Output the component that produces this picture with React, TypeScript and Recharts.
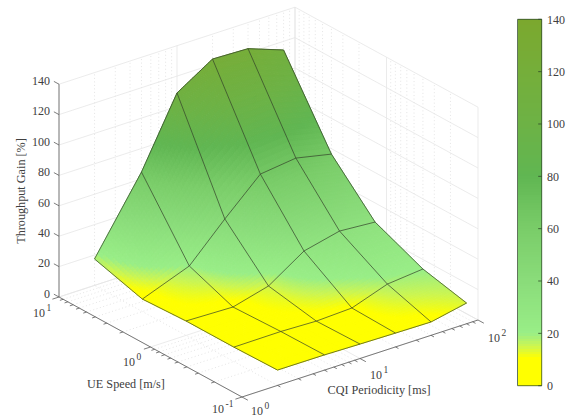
import React from "react";
import { ScatterChart, Scatter, XAxis, YAxis } from "recharts";

const cqiPeriods = [2, 5, 10, 20, 40, 80];
const ueSpeeds = [0.1, 0.3, 1, 3, 10];
const gainAt01 = [10.1, 10, 9.5, 9.1, 8.8, 13.6];
const gainAt03 = [9.5, 9.7, 8.9, 9.9, 18, 20.3];
const gainAt1 = [9.5, 8.6, 14.8, 30.2, 35.7, 34];
const gainAt3 = [8.2, 19.9, 43.2, 65.1, 68, 63];
const gainAt10 = [17.4, 64.5, 108.9, 123.6, 122.8, 114.3];
const gainRows = [gainAt01, gainAt03, gainAt1, gainAt3, gainAt10];
const gainTicks = [0, 20, 40, 60, 80, 100, 120, 140];
const decadeMinors = [2, 3, 4, 5, 6, 7, 8, 9];
const colorStops: [number, number[]][] = [
  [0, [255, 255, 0]],
  [10.5, [255, 255, 0]],
  [15, [205, 246, 80]],
  [20, [153, 238, 135]],
  [40, [138, 220, 122]],
  [60, [122, 205, 105]],
  [80, [96, 182, 82]],
  [100, [109, 178, 69]],
  [120, [117, 174, 58]],
  [140, [123, 168, 46]],
];

const W = 574;
const H = 417;
const FONT = "'Liberation Serif', 'Times New Roman', serif";
const TEXT = "#404040";
const AXIS = "#5a5a5a";
const GRID = "#e6e6e6";
const MINOR = "#d4d4d4";

type P = { x: number; y: number };
const cqiToU = (c: number) => Math.log10(c) / 2;
const speedToV = (s: number) => (Math.log10(s) + 1) / 2;
const project = (u: number, v: number, z: number): P => ({
  x: 242 + 236 * u - 183 * v,
  y: 397 - 77 * u - 100 * v - 1.52 * z,
});
const colorOf = (z: number) => {
  for (let i = 1; i < colorStops.length; i++) {
    const [z1, c1] = colorStops[i];
    const [z0, c0] = colorStops[i - 1];
    if (z <= z1) {
      const t = (z - z0) / (z1 - z0);
      return `rgb(${c0.map((c, k) => Math.round(c + (c1[k] - c) * t)).join(",")})`;
    }
  }
  return "rgb(123,168,46)";
};

type Poly = P & { pts: P[]; fill: string };
const PolyShape = (props: any) => {
  const { cx, cy, payload } = props;
  const pts = payload.pts.map((p: P) => `${cx + p.x - payload.x},${cy + p.y - payload.y}`).join(" ");
  return <polygon points={pts} fill={payload.fill} stroke={payload.fill} strokeWidth={1} strokeLinejoin="round" />;
};
const CrispShape = (props: any) => {
  const { cx, cy, payload } = props;
  const pts = payload.pts.map((p: P) => `${cx + p.x - payload.x},${cy + p.y - payload.y}`).join(" ");
  return <polygon points={pts} fill={payload.fill} shapeRendering="crispEdges" />;
};
const NoDot = () => null;

const surfacePolys: Poly[] = [];
const SUB = 20;
for (let j = ueSpeeds.length - 2; j >= 0; j--) {
  for (let i = cqiPeriods.length - 2; i >= 0; i--) {
    const u0 = cqiToU(cqiPeriods[i]);
    const u1 = cqiToU(cqiPeriods[i + 1]);
    const v0 = speedToV(ueSpeeds[j]);
    const v1 = speedToV(ueSpeeds[j + 1]);
    const gz = (a: number, b: number) =>
      gainRows[j][i] * (1 - a) * (1 - b) +
      gainRows[j][i + 1] * a * (1 - b) +
      gainRows[j + 1][i] * (1 - a) * b +
      gainRows[j + 1][i + 1] * a * b;
    const at = (a: number, b: number) => project(u0 + (u1 - u0) * a, v0 + (v1 - v0) * b, gz(a, b));
    for (let b = SUB - 1; b >= 0; b--) {
      for (let a = SUB - 1; a >= 0; a--) {
        const a0 = a / SUB;
        const a1 = (a + 1) / SUB;
        const b0 = b / SUB;
        const b1 = (b + 1) / SUB;
        const first = at(a0, b0);
        surfacePolys.push({
          ...first,
          pts: [first, at(a1, b0), at(a1, b1), at(a0, b1)],
          fill: colorOf(gz((a0 + a1) / 2, (b0 + b1) / 2)),
        });
      }
    }
  }
}

const meshLines: P[][] = [
  ...ueSpeeds.map((s, j) => cqiPeriods.map((c, i) => project(cqiToU(c), speedToV(s), gainRows[j][i]))),
  ...cqiPeriods.map((c, i) => ueSpeeds.map((s, j) => project(cqiToU(c), speedToV(s), gainRows[j][i]))),
];

type Seg = { pts: P[]; stroke: string; width: number; dash?: string };
const segs: Seg[] = [];
const ZMAX = 140;
const minorUs: number[] = [];
const minorVs: number[] = [];
[0, 1].forEach((d) =>
  decadeMinors.forEach((m) => {
    minorUs.push((d + Math.log10(m)) / 2);
    minorVs.push((d + Math.log10(m)) / 2);
  })
);
minorUs.forEach((u) => {
  segs.push({ pts: [project(u, 1, 0), project(u, 1, ZMAX)], stroke: MINOR, width: 0.6, dash: "1 2.5" });
  segs.push({ pts: [project(u, 0, 0), project(u, 1, 0)], stroke: MINOR, width: 0.6, dash: "1 2.5" });
});
minorVs.forEach((v) => {
  segs.push({ pts: [project(1, v, 0), project(1, v, ZMAX)], stroke: MINOR, width: 0.6, dash: "1 2.5" });
  segs.push({ pts: [project(0, v, 0), project(1, v, 0)], stroke: MINOR, width: 0.6, dash: "1 2.5" });
});
gainTicks.forEach((z) => {
  segs.push({ pts: [project(0, 1, z), project(1, 1, z), project(1, 0, z)], stroke: GRID, width: 0.8 });
});
[0, 0.5, 1].forEach((t) => {
  segs.push({ pts: [project(t, 1, 0), project(t, 1, ZMAX)], stroke: GRID, width: 0.8 });
  segs.push({ pts: [project(1, t, 0), project(1, t, ZMAX)], stroke: GRID, width: 0.8 });
  segs.push({ pts: [project(t, 0, 0), project(t, 1, 0)], stroke: GRID, width: 0.8 });
  segs.push({ pts: [project(0, t, 0), project(1, t, 0)], stroke: GRID, width: 0.8 });
});

const axisSegs: Seg[] = [];
const ax = (pts: P[], width = 0.8) => axisSegs.push({ pts, stroke: AXIS, width });
ax([project(0, 1, 0), project(0, 0, 0), project(1, 0, 0)]);
ax([project(0, 1, 0), project(0, 1, ZMAX)]);
gainTicks.forEach((z) => ax([project(0, 1, z), project(0, 1.028, z)]));
[0, 0.5, 1].forEach((t) => {
  ax([project(0, t, 0), project(-0.028, t, 0)]);
  ax([project(t, 0, 0), project(t, -0.032, 0)]);
});
minorVs.forEach((t) => ax([project(0, t, 0), project(-0.014, t, 0)]));
minorUs.forEach((t) => ax([project(t, 0, 0), project(t, -0.016, 0)]));

const cbX0 = 517.5;
const cbX1 = 541.7;
const cbY = (z: number) => 385.7 - (z / 140) * 366.4;
const colorbarPolys: Poly[] = [];
for (let z = 0; z < 140; z++) {
  const first = { x: cbX0, y: cbY(z) };
  colorbarPolys.push({
    ...first,
    pts: [first, { x: cbX1, y: cbY(z) }, { x: cbX1, y: cbY(z + 1) - 0.5 }, { x: cbX0, y: cbY(z + 1) - 0.5 }],
    fill: colorOf(z + 0.5),
  });
}
const cbBorder: P[] = [
  { x: cbX0, y: cbY(0) },
  { x: cbX1, y: cbY(0) },
  { x: cbX1, y: cbY(140) },
  { x: cbX0, y: cbY(140) },
  { x: cbX0, y: cbY(0) },
];

const lineSeries = (list: Seg[], prefix: string) =>
  list.map((s, k) => (
    <Scatter
      key={`${prefix}${k}`}
      data={s.pts}
      isAnimationActive={false}
      shape={NoDot}
      line={{ stroke: s.stroke, strokeWidth: s.width, strokeDasharray: s.dash, fill: "none" }}
    />
  ));

const Pow = ({ x, y, e }: { x: number; y: number; e: string }) => (
  <text x={x} y={y} fontFamily={FONT} fontSize={12} fill={TEXT}>
    10
    <tspan dy={-6} dx={1.5} fontSize={9.5}>
      {e}
    </tspan>
  </text>
);

export default function App() {
  return (
    <div style={{ position: "absolute", left: 0, top: 0, width: W, height: H }}>
      <ScatterChart width={W} height={H} margin={{ top: 0, right: 0, bottom: 0, left: 0 }}>
        <XAxis type="number" dataKey="x" domain={[0, W]} hide />
        <YAxis type="number" dataKey="y" domain={[0, H]} reversed hide />
        {lineSeries(segs, "grid")}
        {lineSeries(axisSegs, "axis")}
        <Scatter data={surfacePolys} isAnimationActive={false} shape={PolyShape} />
        {meshLines.map((pts, k) => (
          <Scatter
            key={`mesh${k}`}
            data={pts}
            isAnimationActive={false}
            shape={NoDot}
            line={{ stroke: "#33402a", strokeWidth: 0.7, fill: "none" }}
          />
        ))}
        <Scatter data={colorbarPolys} isAnimationActive={false} shape={CrispShape} />
        <Scatter
          data={cbBorder}
          isAnimationActive={false}
          shape={NoDot}
          line={{ stroke: "#2f4a2a", strokeOpacity: 0.85, strokeWidth: 0.9, fill: "none" }}
        />
        {gainTicks.map((z) => (
          <Scatter
            key={`cbt${z}`}
            data={[
              { x: cbX1 - 3.5, y: cbY(z) },
              { x: cbX1, y: cbY(z) },
            ]}
            isAnimationActive={false}
            shape={NoDot}
            line={{ stroke: "#2f4a2a", strokeWidth: 0.8, fill: "none" }}
          />
        ))}
        {gainTicks.map((z) => (
          <text key={`zl${z}`} x={50} y={project(0, 1, z).y - 3.5} dy="0.35em" textAnchor="end" fontFamily={FONT} fontSize={12} fill={TEXT}>
            {z}
          </text>
        ))}
        {gainTicks.map((z) => (
          <text key={`cl${z}`} x={547} y={cbY(z)} dy="0.35em" fontFamily={FONT} fontSize={12} fill={TEXT}>
            {z}
          </text>
        ))}
        <Pow x={33} y={317} e="1" />
        <Pow x={123} y={366} e="0" />
        <Pow x={212} y={413} e="-1" />
        <Pow x={251} y={414.5} e="0" />
        <Pow x={370} y={379} e="1" />
        <Pow x={488} y={342} e="2" />
        <text x={126} y={384} dy="0.35em" textAnchor="middle" fontFamily={FONT} fontSize={12.2} fill={TEXT}>
          UE Speed [m/s]
        </text>
        <text x={379} y={390} dy="0.35em" textAnchor="middle" fontFamily={FONT} fontSize={12.2} fill={TEXT}>
          CQI Periodicity [ms]
        </text>
        <text x={21} y={191} dy="0.35em" textAnchor="middle" transform="rotate(-90 21 191)" fontFamily={FONT} fontSize={12.2} fill={TEXT}>
          Throughput Gain [%]
        </text>
      </ScatterChart>
    </div>
  );
}
